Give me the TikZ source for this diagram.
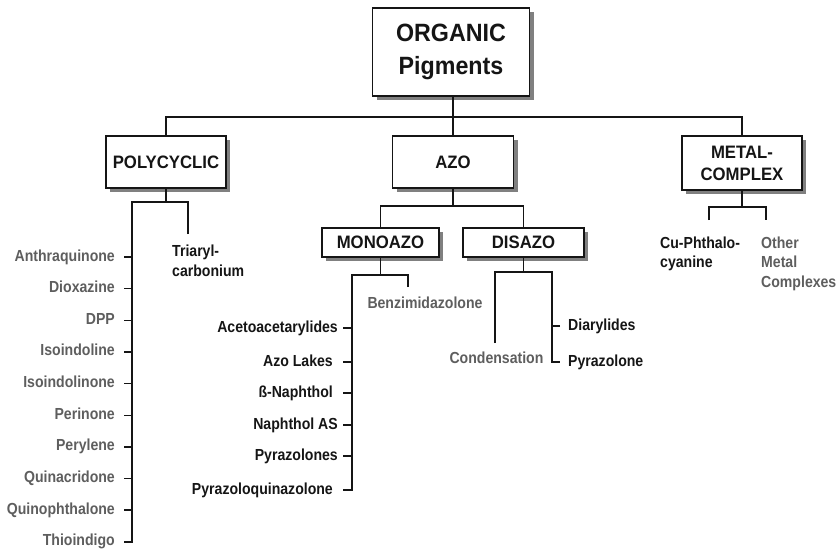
\documentclass[tikz,border=0pt]{standalone}
\usepackage{fontspec}
\setmainfont{Liberation Sans}
\newfontfamily\nar{Liberation Sans}[FakeStretch=0.88]
\newfontfamily\narb{Liberation Sans}[FakeStretch=0.93]
\usetikzlibrary{shadows}
\definecolor{txtgray}{HTML}{5E5E5E}
\definecolor{txtblack}{HTML}{151515}
\begin{document}
\begin{tikzpicture}[x=1pt,y=-1pt,
  box/.style={draw=txtblack, line width=1.6pt, fill=white,
    general shadow={fill=black!50, shadow xshift=4pt, shadow yshift=-4pt},
    font=\narb\bfseries\fontsize{18}{22}\selectfont, text=txtblack, inner sep=0pt, align=center},
  conn/.style={line width=1.5pt, draw=txtblack},
  item/.style={font=\nar\bfseries\fontsize{16}{19.5}\selectfont, inner sep=0pt, text height=11.5pt, text depth=3.5pt},
  multi/.style={font=\nar\bfseries\fontsize{16}{19.5}\selectfont, inner sep=0pt, align=left},
  gr/.style={text=txtgray},
  bk/.style={text=txtblack}]
\useasboundingbox (0,0) rectangle (838,552);

% boxes
\node[box, minimum width=157pt, minimum height=88pt, font=\narb\bfseries\fontsize{25}{33}\selectfont] (org) at (451,52) {ORGANIC\\Pigments};
\node[box, minimum width=120pt, minimum height=52pt] (poly) at (166,162) {POLYCYCLIC};
\node[box, minimum width=121pt, minimum height=52pt] (azo) at (453,162) {AZO};
\node[box, minimum width=120pt, minimum height=54pt] (metal) at (742,163) {METAL-\\COMPLEX};
\node[box, minimum width=117pt, minimum height=29pt] (mono) at (380.5,242.5) {MONOAZO};
\node[box, minimum width=121pt, minimum height=29pt] (dis) at (523.5,242.5) {DISAZO};

% top level connectors
\coordinate (jtop) at (453,117);
\draw[conn] (org.south -| jtop) -- (jtop);
\draw[conn] (poly.north) |- (jtop) -| (metal.north);
\draw[conn] (jtop) -- (azo.north);

% polycyclic
\coordinate (pj) at (166,202);
\coordinate (pl) at (132,202);
\coordinate (pr) at (188,202);
\coordinate (prb) at (188,234);
\foreach \t [count=\i] in {Anthraquinone,Dioxazine,DPP,Isoindoline,Isoindolinone,Perinone,Perylene,Quinacridone,Quinophthalone,Thioindigo}
  \node[item, gr, anchor=east] (p\i) at (115,{257+(\i-1)*31.65}) {\t};
\draw[conn] (poly.south) -- (pj);
\draw[conn] (prb) -- (pr) -- (pl) -- (p10 -| pl) -- ([xshift=9pt]p10.east);
\foreach \i in {1,...,9}
  \draw[conn] ([xshift=9pt]p\i.east) -- (p\i -| pl);
\node[multi, bk, anchor=west] (tri) at (172,261) {Triaryl-\\carbonium};

% azo
\coordinate (aj) at (453,206);
\draw[conn] (azo.south) -- (aj);
\draw[conn] (mono.north) |- (aj) -| (dis.north);

% monoazo
\coordinate (mj) at (380.5,275);
\coordinate (ml) at (352,275);
\coordinate (mr) at (408,275);
\coordinate (mrb) at (408,287);
\node[item, gr] (benz) at (425,304) {Benzimidazolone};
\node[item, bk, anchor=east] (m1) at (338,328) {Acetoacetarylides};
\node[item, bk, anchor=east] (m2) at (333,362) {Azo Lakes};
\node[item, bk, anchor=east] (m3) at (333,393) {ß-Naphthol};
\node[item, bk, anchor=east] (m4) at (338,425) {Naphthol AS};
\node[item, bk, anchor=east] (m5) at (338,456) {Pyrazolones};
\node[item, bk, anchor=east] (m6) at (333,490) {Pyrazoloquinazolone};
\draw[conn] (mono.south) -- (mj);
\draw[conn] (mrb) -- (mr) -- (ml) -- (m6 -| ml) -- (343,490);
\foreach \i in {1,...,5}
  \draw[conn] (343,0 |- m\i) -- (m\i -| ml);

% disazo
\coordinate (dj) at (523.5,272);
\coordinate (dl) at (495,272);
\coordinate (dr) at (552,272);
\coordinate (dlb) at (495,343);
\node[item, gr] (cond) at (496.5,359) {Condensation};
\node[item, bk, anchor=west] (dia) at (568,326) {Diarylides};
\node[item, bk, anchor=west] (pyr) at (568,362) {Pyrazolone};
\draw[conn] (dis.south) -- (dj);
\draw[conn] (dlb) -- (dl) -- (dr) -- (pyr -| dr) -- ([xshift=-8pt]pyr.west);
\draw[conn] ([xshift=-8pt]dia.west) -- (dia -| dr);

% metal complex
\coordinate (xj) at (742,207);
\coordinate (xl) at (709,207);
\coordinate (xr) at (766,207);
\coordinate (xlb) at (709,220);
\coordinate (xrb) at (766,220);
\draw[conn] (metal.south) -- (xj);
\draw[conn] (xlb) -- (xl) -- (xr) -- (xrb);
\node[multi, bk, anchor=west] (cu) at (660,254) {Cu-Phthalo-\\cyanine};
\node[multi, gr, anchor=west] (oth) at (761,263.5) {Other\\Metal\\Complexes};
\end{tikzpicture}
\end{document}
